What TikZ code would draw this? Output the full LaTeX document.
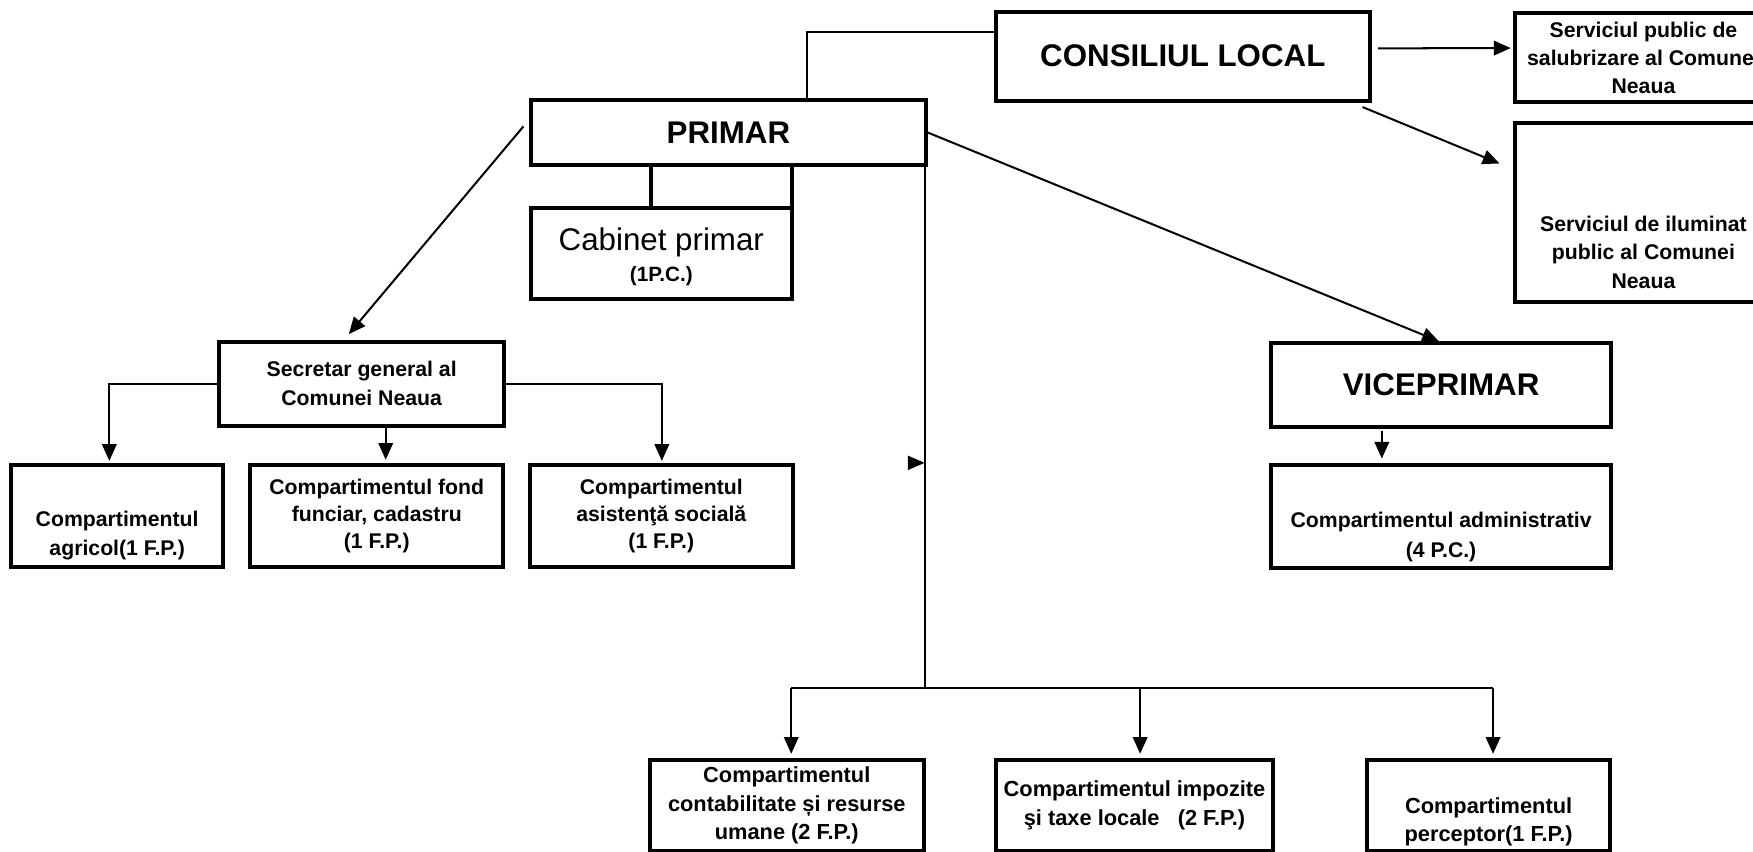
\documentclass[tikz,border=0pt]{standalone}
\usepackage{fontspec}
\setmainfont{Liberation Sans}
\usetikzlibrary{arrows.meta,calc}
\begin{document}
\begin{tikzpicture}[x=1pt,y=-1pt,
  box/.style={draw, line width=3.5pt, inner sep=0pt, align=center, font=\bfseries\fontsize{19}{25}\selectfont},
  txt/.style={inner sep=0pt, align=center, font=\bfseries\fontsize{19}{25}\selectfont},
  big/.style={font=\bfseries\fontsize{28}{32}\selectfont},
  bot/.style={font=\bfseries\fontsize{19.5}{25.5}\selectfont},
  conn/.style={line width=1.8pt},
  arr/.style={conn, -{Triangle[width=13pt,length=15pt]}},
  heavy/.style={line width=3.5pt}]
\useasboundingbox[fill=white] (0,0) rectangle (1568,762);
\clip (0,0) rectangle (1568,762);

% boxes
\node[box,big,minimum width=334pt,minimum height=79.5pt] (CL) at (1058,50.25) {CONSILIUL LOCAL};
\node[box,minimum width=230pt,minimum height=79pt] (SP) at (1470,51.5) {Serviciul public de\\salubrizare al Comunei\\Neaua};
\node[box,minimum width=230pt,minimum height=160pt] (SI) at (1470,190) {};
\node[txt,font=\bfseries\fontsize{19}{25.5}\selectfont] (SIt) at (1470,225.5) {Serviciul de iluminat\\public al Comunei\\Neaua};

\node[box,big,minimum width=353pt,minimum height=58pt] (PR) at (651.5,118.5) {PRIMAR};
\node[box,minimum width=233pt,minimum height=81.5pt] (CB) at (591.5,226.75) {};
\node[txt,font=\bfseries\fontsize{18.5}{28}\selectfont] (CBt) at (591.5,229.5) {{\mdseries\fontsize{28}{28}\selectfont Cabinet primar}\\(1P.C.)};

\node[box,font=\bfseries\fontsize{19}{26}\selectfont,minimum width=255pt,minimum height=75.4pt] (SG) at (323.5,343.3) {Secretar general al\\Comunei Neaua};
\node[box,minimum width=189.6pt,minimum height=91pt] (AG) at (104.8,461.5) {};
\node[txt,font=\bfseries\fontsize{19}{26}\selectfont] (AGt) at (104.8,479) {Compartimentul\\agricol(1 F.P.)};
\node[box,font=\bfseries\fontsize{19}{24}\selectfont,minimum width=226pt,minimum height=91pt] (FD) at (337,461.5) {Compartimentul fond\\funciar, cadastru\\(1 F.P.)};
\node[box,font=\bfseries\fontsize{19}{24}\selectfont,minimum width=235pt,minimum height=91pt] (AS) at (591.5,461.5) {Compartimentul\\asistenţă socială\\(1 F.P.)};

\node[box,big,minimum width=304pt,minimum height=75pt] (VP) at (1289,344.5) {VICEPRIMAR};
\node[box,minimum width=304pt,minimum height=92pt] (AD) at (1289,462) {};
\node[txt,font=\bfseries\fontsize{19}{27}\selectfont] (ADt) at (1289,480.5) {Compartimentul administrativ\\(4 P.C.)};

\node[box,bot,minimum width=245.5pt,minimum height=81pt] (CT) at (703.75,720.5) {Compartimentul\\contabilitate și resurse\\umane (2 F.P.)};
\node[box,bot,minimum width=247.6pt,minimum height=81pt] (IM) at (1014.8,720.5) {Compartimentul impozite\\şi taxe locale \ \ (2 F.P.)};
\node[box,minimum width=217pt,minimum height=81pt] (PC) at (1331.5,720.5) {};
\node[txt,bot] (PCt) at (1331.5,735) {Compartimentul\\perceptor(1 F.P.)};

% connectors
\coordinate (t1) at (722,29);
\draw[conn] (PR.north -| t1) |- (CL.west |- t1);
\draw[arr] ($(PR.west)+(-5,-5.5)$) -- ($(SG.north)+(-11.5,-5)$);
\draw[arr] (PR.east) -- ($(VP.north)+(-2,0)$);

\coordinate (c1) at (582,0);
\draw[heavy] (PR.south -| c1) -- (CB.north -| c1);
\draw[heavy] ($(CB.north east)+(-1.75,0)$) -- ($(CB.north east |- PR.south)+(-1.75,0)$);

\coordinate (J) at (827,615.6);
\draw[conn] (PR.south -| J) -- (J);
\draw[conn] ($(CT.north |- J)+(4,0)$) -- ($(PC.north |- J)+(4,0)$);
\draw[arr] ($(CT.north |- J)+(4,0)$) -- ($(CT.north)+(4,-4)$);
\draw[arr] ($(IM.north |- J)+(5,0)$) -- ($(IM.north)+(5,-4)$);
\draw[arr] ($(PC.north |- J)+(4,0)$) -- ($(PC.north)+(4,-4)$);

\coordinate (ah) at (827,414);
\fill ($(ah)+(-15,-6.5)$) -- (ah) -- ($(ah)+(-15,6.5)$) -- cycle;

\draw[arr] ($(CL.east)+(6,-7)$) -- ($(SP.west)+(-2,-8.5)$);
\draw[arr] ($(CL.south east)+(-8,4)$) -- ($(SI.north west)+(-12,38)$);

\draw[arr] (SG.west) -| ($(AG.north)+(-7,-2)$);
\draw[arr] (SG.east) -| ($(AS.north)+(0.5,-2)$);
\draw[arr] ($(SG.south)+(21.5,0)$) -- ($(FD.north)+(8,-3)$);

\draw[arr] ($(VP.south)+(-53,2)$) -- ($(AD.north)+(-53,-4)$);
\end{tikzpicture}
\end{document}
